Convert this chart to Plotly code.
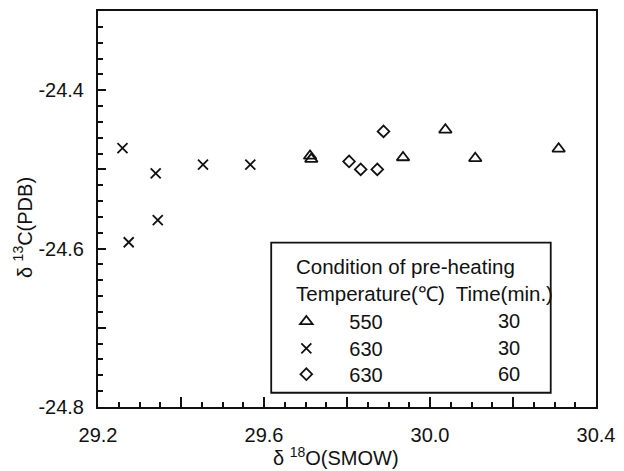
import plotly.graph_objects as go

# Data
tri_x = [29.711, 29.714, 29.935, 30.037, 30.109, 30.310]
tri_y = [-24.483, -24.487, -24.485, -24.450, -24.486, -24.474]
crs_x = [29.259, 29.339, 29.453, 29.567, 29.344, 29.274]
crs_y = [-24.473, -24.505, -24.494, -24.494, -24.564, -24.592]
dia_x = [29.888, 29.805, 29.833, 29.873]
dia_y = [-24.452, -24.490, -24.500, -24.500]

series_names = ["550", "630", "630"]
series_times = ["30", "30", "60"]
x_range = [29.2, 30.4]
y_range = [-24.8, -24.3]
y_label_values = ["24.8", "24.7", "24.6", "24.5", "24.4", "24.3"]

FONT = "Liberation Sans, Arial, sans-serif"
INK = "#111111"
FS = 20

W, H = 624, 471
ml, mr, mt, mb = 98, 20, 9, 64
pw, ph = W - ml - mr, H - mt - mb

def px(x):
    return (x - ml) / pw

def py(y):
    return (H - mb - y) / ph

row_y = [321, 348, 374]
symbols = ["triangle-up-open", "x-thin-open", "diamond-open"]
sizes = [11, 10, 9]
xs = [tri_x, crs_x, dia_x]
ys = [tri_y, crs_y, dia_y]
legend_ids = ["legend", "legend2", "legend3"]

fig = go.Figure()
for i in range(3):
    fig.add_trace(go.Scatter(x=xs[i], y=ys[i], mode="markers", name=series_names[i],
                             legend=legend_ids[i],
                             marker=dict(symbol=symbols[i], size=sizes[i], color=INK,
                                         line=dict(width=1.8, color=INK))))

legend_common = dict(xanchor="left", yanchor="middle", bgcolor="rgba(0,0,0,0)",
                     borderwidth=0, font=dict(family=FONT, size=FS, color=INK),
                     itemwidth=76)
layout_legends = {}
for lid, yy in zip(legend_ids, row_y):
    layout_legends[lid] = dict(x=px(266), y=py(yy), **legend_common)

fig.update_layout(
    width=W, height=H,
    margin=dict(l=ml, r=mr, t=mt, b=mb, pad=0),
    paper_bgcolor="white", plot_bgcolor="white",
    font=dict(family=FONT, size=FS, color=INK),
    showlegend=True,
    **layout_legends,
)

fig.update_xaxes(
    range=x_range, showgrid=False, zeroline=False,
    showline=True, linecolor=INK, linewidth=2, mirror=True,
    tickmode="linear", tick0=29.2, dtick=0.2, ticklabelstep=2, tickformat=".1f",
    ticks="inside", ticklen=10, tickwidth=1.5, tickcolor=INK,
    minor=dict(ticks="inside", dtick=0.05, tick0=29.2, ticklen=5, tickwidth=1.5, tickcolor=INK),
    tickfont=dict(size=FS), ticklabelstandoff=9,
)
fig.update_yaxes(
    range=y_range, showgrid=False, zeroline=False,
    showline=True, linecolor=INK, linewidth=2, mirror=True,
    tickmode="linear", tick0=-24.8, dtick=0.1, ticklabelstep=2, tickformat=".1f",
    labelalias={"\u2212" + v: "-" + v for v in y_label_values},
    ticks="inside", ticklen=8, tickwidth=1.5, tickcolor=INK,
    minor=dict(ticks="inside", dtick=0.02, tick0=-24.8, ticklen=5, tickwidth=1.5, tickcolor=INK),
    tickfont=dict(size=FS), ticklabelstandoff=8,
)

# Axis titles
fig.add_annotation(xref="paper", yref="paper", x=px(340), y=py(457),
                   xanchor="center", yanchor="middle", showarrow=False,
                   text="δ <sup>18</sup>O(SMOW)", font=dict(size=FS))
fig.add_annotation(xref="paper", yref="paper", x=px(22), y=py(227),
                   xanchor="center", yanchor="middle", showarrow=False, textangle=-90,
                   text="δ <sup>13</sup>C(PDB)", font=dict(size=FS))

# Legend frame and header
fig.add_shape(type="rect", xref="paper", yref="paper",
              x0=px(274), x1=px(558), y0=py(392.7), y1=py(241.7),
              line=dict(color=INK, width=1.8), fillcolor="rgba(0,0,0,0)")
fig.add_annotation(xref="paper", yref="paper", x=px(297), y=py(266),
                   xanchor="left", yanchor="middle", showarrow=False,
                   text="Condition of pre-heating", font=dict(size=20.5))
fig.add_annotation(xref="paper", yref="paper", x=px(297), y=py(293),
                   xanchor="left", yanchor="middle", showarrow=False,
                   text="Temperature(℃)  Time(min.)", font=dict(size=20.5))
for t, yy in zip(series_times, row_y):
    fig.add_annotation(xref="paper", yref="paper", x=px(529), y=py(yy),
                       xanchor="right", yanchor="middle", showarrow=False,
                       text=t, font=dict(size=FS))

fig.write_html("out.html")
